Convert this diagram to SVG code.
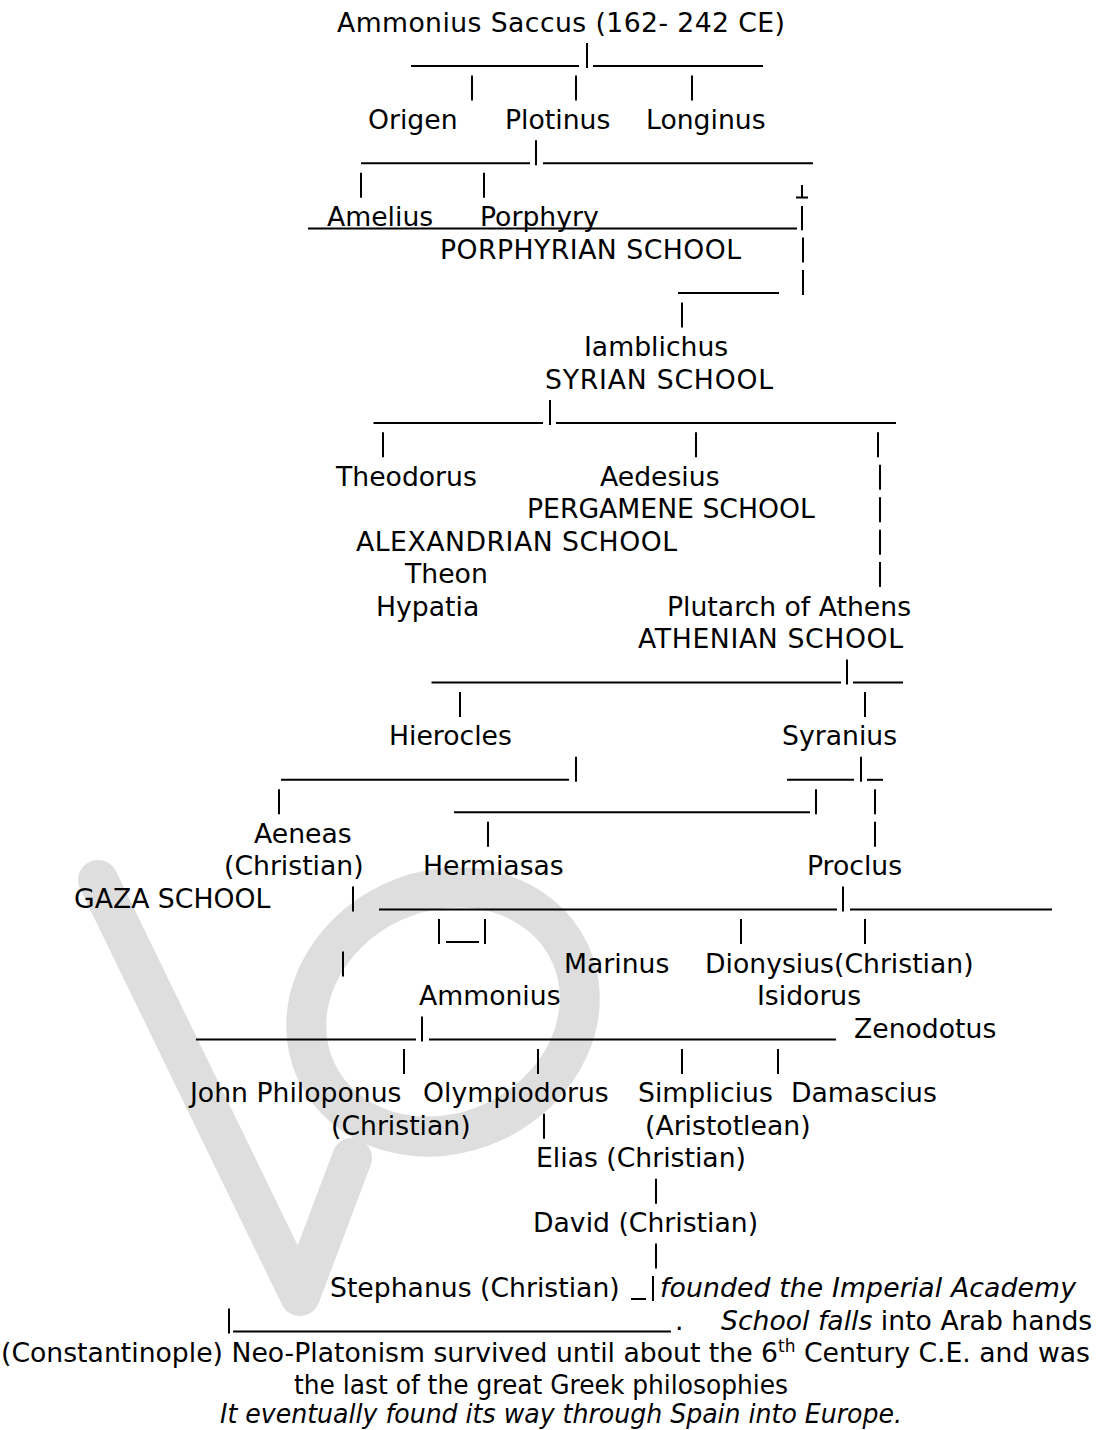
<svg xmlns="http://www.w3.org/2000/svg" width="1115" height="1430" viewBox="0 0 1115 1430">
<style>
.t{font-family:"DejaVu Sans",Verdana,sans-serif;font-size:26.67px;fill:#000}
.i{font-style:italic}
.c line{stroke:#000;stroke-width:2}
.wm{fill:none;stroke:#dedede;stroke-width:40}
</style>
<rect width="1115" height="1430" fill="#fff"/>
<g id="watermark">
<path class="wm" d="M98,880 L300,1296 L352,1158" stroke-linejoin="round" stroke-linecap="round"/>
<ellipse class="wm" cx="443" cy="1012" rx="140" ry="121" transform="rotate(-25 443 1012)"/>
</g>
<g id="connectors" class="c">
<line x1="411" y1="66" x2="579" y2="66"/><line x1="587" y1="43" x2="587" y2="68"/><line x1="593" y1="66" x2="763" y2="66"/>
<line x1="472" y1="75.4" x2="472" y2="100.4"/><line x1="576" y1="75.4" x2="576" y2="100.4"/><line x1="692" y1="75.4" x2="692" y2="100.4"/>
<line x1="361" y1="163.3" x2="530" y2="163.3"/><line x1="536" y1="140.3" x2="536" y2="165.3"/><line x1="543" y1="163.3" x2="813" y2="163.3"/>
<line x1="361" y1="172.8" x2="361" y2="197.8"/><line x1="484" y1="172.8" x2="484" y2="197.8"/>
<line x1="802" y1="185" x2="802" y2="197.5"/><line x1="796" y1="197.5" x2="808" y2="197.5"/>
<line x1="308" y1="228.5" x2="797" y2="228.5"/><line x1="802" y1="206" x2="802" y2="230.2"/>
<line x1="803" y1="237.6" x2="803" y2="262.6"/>
<line x1="678" y1="293" x2="779" y2="293"/><line x1="803" y1="270.1" x2="803" y2="295.1"/>
<line x1="682" y1="302.5" x2="682" y2="327.5"/>
<line x1="373.5" y1="422.9" x2="543" y2="422.9"/><line x1="550" y1="399.9" x2="550" y2="424.9"/><line x1="556" y1="422.9" x2="896" y2="422.9"/>
<line x1="383" y1="432.3" x2="383" y2="457.3"/><line x1="696" y1="432.3" x2="696" y2="457.3"/><line x1="878" y1="432.3" x2="878" y2="457.3"/>
<line x1="880" y1="464.8" x2="880" y2="489.8"/><line x1="880" y1="497.2" x2="880" y2="522.2"/><line x1="880" y1="529.7" x2="880" y2="554.7"/><line x1="880" y1="562.1" x2="880" y2="587.1"/>
<line x1="431.5" y1="682.5" x2="841" y2="682.5"/><line x1="847" y1="659.5" x2="847" y2="684.5"/><line x1="853" y1="682.5" x2="903" y2="682.5"/>
<line x1="460" y1="692" x2="460" y2="717"/><line x1="865" y1="692" x2="865" y2="717"/>
<line x1="281" y1="779.8" x2="569" y2="779.8"/><line x1="576" y1="756.8" x2="576" y2="781.8"/>
<line x1="787" y1="779.8" x2="854" y2="779.8"/><line x1="861" y1="756.8" x2="861" y2="781.8"/><line x1="867" y1="779.8" x2="883" y2="779.8"/>
<line x1="279" y1="789.3" x2="279" y2="814.3"/><line x1="454" y1="812.3" x2="810" y2="812.3"/><line x1="816" y1="789.3" x2="816" y2="814.3"/><line x1="875" y1="789.3" x2="875" y2="814.3"/>
<line x1="488" y1="821.7" x2="488" y2="846.7"/><line x1="875" y1="821.7" x2="875" y2="846.7"/>
<line x1="353" y1="886.6" x2="353" y2="911.6"/><line x1="379" y1="909.6" x2="837" y2="909.6"/><line x1="843" y1="886.6" x2="843" y2="911.6"/><line x1="850" y1="909.6" x2="1052" y2="909.6"/>
<line x1="439" y1="919.1" x2="439" y2="944.1"/><line x1="446" y1="942.1" x2="479" y2="942.1"/><line x1="485" y1="919.1" x2="485" y2="944.1"/><line x1="741" y1="919.1" x2="741" y2="944.1"/><line x1="865" y1="919.1" x2="865" y2="944.1"/>
<line x1="343" y1="951.5" x2="343" y2="976.5"/>
<line x1="196" y1="1039.4" x2="416" y2="1039.4"/><line x1="422" y1="1016.4" x2="422" y2="1041.4"/><line x1="429" y1="1039.4" x2="836" y2="1039.4"/>
<line x1="404" y1="1048.9" x2="404" y2="1073.9"/><line x1="538" y1="1048.9" x2="538" y2="1073.9"/><line x1="682" y1="1048.9" x2="682" y2="1073.9"/><line x1="778" y1="1048.9" x2="778" y2="1073.9"/>
<line x1="544" y1="1113.8" x2="544" y2="1138.8"/>
<line x1="656" y1="1178.7" x2="656" y2="1203.7"/>
<line x1="656" y1="1243.6" x2="656" y2="1268.6"/>
<line x1="631" y1="1299" x2="646" y2="1299"/><line x1="653" y1="1276" x2="653" y2="1301"/>
<line x1="229" y1="1308.5" x2="229" y2="1333.5"/><line x1="233" y1="1331.5" x2="671" y2="1331.5"/>
</g>
<g id="n-ammonius-saccus"><text class="t" x="337" y="31.5" textLength="448">Ammonius Saccus (162- 242 CE)</text></g>
<g id="n-origen"><text class="t" x="368" y="128.9">Origen</text></g>
<g id="n-plotinus"><text class="t" x="505" y="128.9">Plotinus</text></g>
<g id="n-longinus"><text class="t" x="646" y="128.9">Longinus</text></g>
<g id="n-amelius"><text class="t" x="327" y="226.2">Amelius</text></g>
<g id="n-porphyry"><text class="t" x="480" y="226.2">Porphyry</text></g>
<g id="n-porphyrian"><text class="t" x="440" y="258.7" textLength="301">PORPHYRIAN SCHOOL</text></g>
<g id="n-iamblichus"><text class="t" x="584" y="356">Iamblichus</text></g>
<g id="n-syrian"><text class="t" x="545" y="388.5" textLength="228">SYRIAN SCHOOL</text></g>
<g id="n-theodorus"><text class="t" x="336" y="485.8">Theodorus</text></g>
<g id="n-aedesius"><text class="t" x="600" y="485.8">Aedesius</text></g>
<g id="n-pergamene"><text class="t" x="527" y="518.3">PERGAMENE SCHOOL</text></g>
<g id="n-alexandrian"><text class="t" x="356" y="550.7" textLength="321">ALEXANDRIAN SCHOOL</text></g>
<g id="n-theon"><text class="t" x="405" y="583.2">Theon</text></g>
<g id="n-hypatia"><text class="t" x="376" y="615.6">Hypatia</text></g>
<g id="n-plutarch"><text class="t" x="667" y="615.6">Plutarch of Athens</text></g>
<g id="n-athenian"><text class="t" x="638" y="648.1" textLength="265">ATHENIAN SCHOOL</text></g>
<g id="n-hierocles"><text class="t" x="389" y="745.4">Hierocles</text></g>
<g id="n-syranius"><text class="t" x="782" y="745.4">Syranius</text></g>
<g id="n-aeneas"><text class="t" x="254" y="842.8">Aeneas</text><text class="t" x="224" y="875.2">(Christian)</text></g>
<g id="n-hermiasas"><text class="t" x="423" y="875.2">Hermiasas</text></g>
<g id="n-proclus"><text class="t" x="807" y="875.2">Proclus</text></g>
<g id="n-gaza"><text class="t" x="74" y="907.7">GAZA SCHOOL</text></g>
<g id="n-marinus"><text class="t" x="564" y="972.6">Marinus</text></g>
<g id="n-dionysius"><text class="t" x="705" y="972.6">Dionysius(Christian)</text></g>
<g id="n-ammonius"><text class="t" x="419" y="1005">Ammonius</text></g>
<g id="n-isidorus"><text class="t" x="757" y="1005">Isidorus</text></g>
<g id="n-zenodotus"><text class="t" x="854" y="1037.5">Zenodotus</text></g>
<g id="n-philoponus"><text class="t" x="190" y="1102.4">John Philoponus</text><text class="t" x="331" y="1134.8">(Christian)</text></g>
<g id="n-olympiodorus"><text class="t" x="423" y="1102.4">Olympiodorus</text></g>
<g id="n-simplicius"><text class="t" x="638" y="1102.4">Simplicius</text><text class="t" x="645" y="1134.8">(Aristotlean)</text></g>
<g id="n-damascius"><text class="t" x="791" y="1102.4">Damascius</text></g>
<g id="n-elias"><text class="t" x="536" y="1167.3">Elias (Christian)</text></g>
<g id="n-david"><text class="t" x="533" y="1232.2">David (Christian)</text></g>
<g id="n-stephanus"><text class="t" x="330" y="1297.1">Stephanus (Christian)</text></g>
<g id="n-founded"><text class="t i" x="660" y="1297.1" textLength="416">founded the Imperial Academy</text></g>
<g id="n-falls"><text class="t" x="675" y="1329.5">.</text><text class="t" x="721" y="1329.5"><tspan class="i">School falls</tspan> into Arab hands</text></g>
<g id="n-notes">
<text class="t" x="1" y="1362">(Constantinople) Neo-Platonism survived until about the 6<tspan font-size="17" dy="-10">th</tspan><tspan dy="10"> Century C.E. and was</tspan></text>
<text class="t" x="294" y="1394.4" textLength="494" lengthAdjust="spacingAndGlyphs">the last of the great Greek philosophies</text>
<text class="t i" x="220" y="1423" textLength="682" lengthAdjust="spacingAndGlyphs">It eventually found its way through Spain into Europe.</text>
</g>
</svg>
